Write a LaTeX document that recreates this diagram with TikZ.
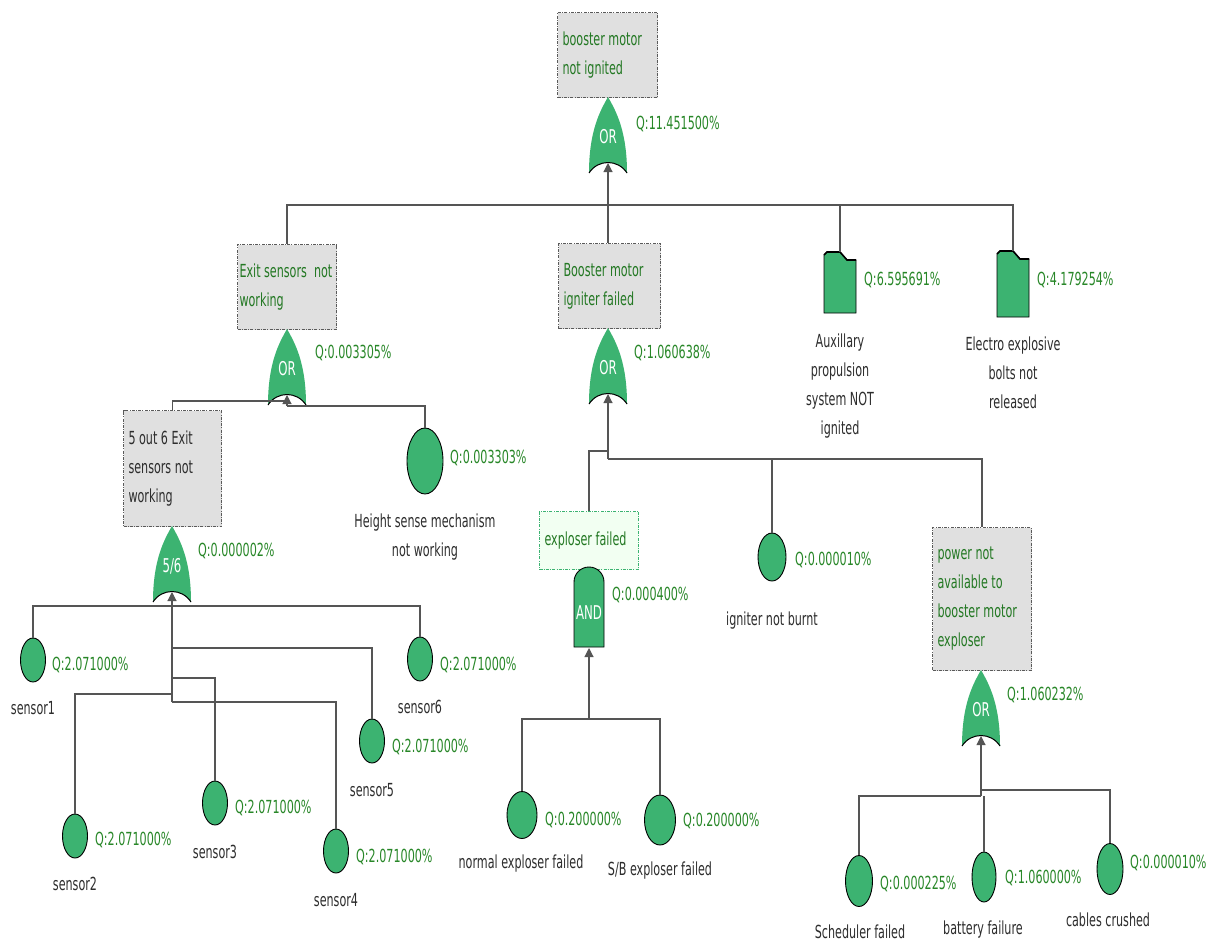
\documentclass[tikz,border=0pt]{standalone}
\usepackage{fontspec}
\setmainfont[FakeStretch=0.62]{DejaVu Sans}
\usetikzlibrary{shapes.geometric,arrows.meta}
\definecolor{gfill}{RGB}{60,179,113}
\definecolor{qgreen}{RGB}{40,135,40}
\definecolor{bgreen}{RGB}{35,120,35}
\definecolor{txt}{RGB}{45,45,45}
\definecolor{wirec}{RGB}{85,85,85}
\definecolor{boxfill}{RGB}{224,224,224}
\definecolor{boxline}{RGB}{90,90,90}
\definecolor{lgfill}{RGB}{242,255,242}
\tikzset{
  pics/orgate/.style={code={
    \fill[gfill] (0,0) .. controls (-8,14) and (-19,34) .. (-19,76)
      .. controls (-10,62) and (10,62) .. (19,76)
      .. controls (19,34) and (8,14) .. (0,0) -- cycle;
    \draw[black, line width=1pt] (-19,76) .. controls (-10,62) and (10,62) .. (19,76);
    \node[gatelbl] (-lbl) at (0,40) {#1};
    \coordinate (-top) at (0,0);
    \coordinate (-in) at (0,66);
  }},
  pics/andgate/.style={code={
    \filldraw[fill=gfill, draw=black, line width=0.9pt] (-15,80) -- (-15,15)
      .. controls (-15,6.7) and (-8.3,0) .. (0,0)
      .. controls (8.3,0) and (15,6.7) .. (15,15) -- (15,80) -- cycle;
    \node[gatelbl] (-lbl) at (0,46) {#1};
    \coordinate (-top) at (0,0);
    \coordinate (-in) at (0,81);
  }},
  pics/folder/.style={code={
    \filldraw[fill=gfill, draw=black, line width=0.9pt] (-16,#1) -- (-16,3) -- (-13,0) -- (0,0)
      -- (7,8) -- (16,8) -- (16,#1) -- cycle;
    \draw[black, line width=1.6pt] (-16,3) -- (-13,0) -- (0,0) -- (7,8) -- (16,8);
    \coordinate (-top) at (0,0);
  }},
}
\begin{document}
\begin{tikzpicture}[x=1pt,y=-1pt,
  every node/.style={font=\fontsize{18}{29}\selectfont, inner sep=0pt},
  gatelbl/.style={text=white, font=\fontsize{19}{22}\selectfont},
  wire/.style={draw=wirec, line width=1.1pt},
  arr/.style={wire, -{Triangle[length=9pt,width=9pt]}},
  evbox/.style={draw=boxline, fill=boxfill, line width=1pt,
    dash pattern=on 3pt off 1.2pt on 1pt off 1.2pt, align=flush left, text=bgreen,
    inner xsep=5pt, inner ysep=0pt, anchor=north west},
  qlab/.style={text=qgreen, anchor=west},
  lab/.style={text=txt, align=center},
  basic/.style={ellipse, draw=black, fill=gfill, line width=0.9pt},
]
\fill[white] (0,0) rectangle (1212,943);
\useasboundingbox (0,0) rectangle (1212,943);

% ---------------- top event
\node[evbox, text width=90pt, minimum height=85pt] (topbox) at (557,12) {booster motor\\not ignited};
\pic (g1) at (608,97) {orgate=OR};
\node[qlab] (q1) at (636,124) {Q:11.451500\%};

% ---------------- level 1
\node[evbox, text width=95pt, inner xsep=2pt, minimum height=85pt] (exitbox) at (237,244) {Exit sensors\ \ not\\working};
\node[evbox, text width=92pt, minimum height=85pt] (igbox) at (558,243) {Booster motor\\igniter failed};
\pic (aux) at (840,252) {folder=61};
\node[qlab] (qaux) at (864,280) {Q:6.595691\%};
\node[lab] (laux) at (840,386) {Auxillary\\propulsion\\system NOT\\ignited};
\pic (eeb) at (1013,251) {folder=66};
\node[qlab] (qeeb) at (1037,280) {Q:4.179254\%};
\node[lab] (leeb) at (1013,373) {Electro explosive\\bolts not\\released};

\coordinate (b1) at (608,205);
\draw[wire] (exitbox.north) |- (b1);
\draw[wire] (aux-top) |- (b1);
\draw[wire] (eeb-top) |- (b1);
\draw[arr] (g1-in |- igbox.north) -- (g1-in);

% ---------------- exit sensors branch
\pic (g2) at (287,329) {orgate=OR};
\node[qlab] (q2) at (315,353) {Q:0.003305\%};
\node[evbox, text width=88pt, minimum height=116pt, text=txt] (fivebox) at (123,410) {5 out 6 Exit\\sensors not\\working};
\node[basic, minimum width=36pt, minimum height=66pt] (hs) at (425,461) {};
\node[qlab] (qhs) at (450,458) {Q:0.003303\%};
\node[lab] (lhs) at (425,537) {Height sense mechanism\\not working};
\coordinate (b2a) at (287,401);
\coordinate (b2b) at (287,406);
\draw[wire] (fivebox.north) |- (b2a);
\draw[wire] (hs.north) |- (b2b);
\draw[arr] (b2b) -- (g2-in);

% ---------------- 5/6 vote
\pic (g3) at (172,526) {orgate=5/6};
\node[qlab] (q3) at (198,551) {Q:0.000002\%};
\node[basic, minimum width=25pt, minimum height=44pt] (s1) at (33,660) {};
\node[basic, minimum width=25pt, minimum height=44pt] (s2) at (75,836) {};
\node[basic, minimum width=25pt, minimum height=44pt] (s3) at (215,803) {};
\node[basic, minimum width=25pt, minimum height=44pt] (s4) at (336,851) {};
\node[basic, minimum width=25pt, minimum height=44pt] (s5) at (372,741) {};
\node[basic, minimum width=25pt, minimum height=44pt] (s6) at (420,659) {};
\node[qlab] (qs1) at (52,665) {Q:2.071000\%};
\node[qlab] (qs2) at (95,840) {Q:2.071000\%};
\node[qlab] (qs3) at (235,808) {Q:2.071000\%};
\node[qlab] (qs4) at (356,857) {Q:2.071000\%};
\node[qlab] (qs5) at (392,747) {Q:2.071000\%};
\node[qlab] (qs6) at (440,665) {Q:2.071000\%};
\node[lab] (ls1) at (33,708) {sensor1};
\node[lab] (ls2) at (75,884) {sensor2};
\node[lab] (ls3) at (215,852) {sensor3};
\node[lab] (ls4) at (336,900) {sensor4};
\node[lab] (ls5) at (372,790) {sensor5};
\node[lab] (ls6) at (420,707) {sensor6};
\coordinate (b3a) at (172,606);
\coordinate (b3b) at (172,648);
\coordinate (b3c) at (172,678);
\coordinate (b3d) at (172,694);
\coordinate (b3e) at (172,702);
\draw[wire] (s1.north) |- (b3a) -| (s6.north);
\draw[wire] (b3b) -| (s5.north);
\draw[wire] (b3c) -| (s3.north);
\draw[wire] (b3d) -| (s2.north);
\draw[wire] (b3e) -| (s4.north);
\draw[arr] (b3e) -- (g3-in);

% ---------------- igniter branch
\pic (g4) at (608,328) {orgate=OR};
\node[qlab] (q4) at (634,353) {Q:1.060638\%};
\node[evbox, text width=89pt, minimum height=58pt, fill=lgfill, draw=gfill] (expbox) at (539,511) {exploser failed};
\node[basic, minimum width=28pt, minimum height=48pt] (ign) at (772,557) {};
\node[qlab] (qign) at (795,560) {Q:0.000010\%};
\node[lab] (lign) at (772,621) {igniter not burnt};
\node[evbox, text width=89pt, minimum height=143pt] (pwrbox) at (932,527) {power not\\available to\\booster motor\\exploser};
\coordinate (b4a) at (608,451);
\coordinate (b4b) at (608,459);
\draw[wire] (expbox.north) |- (b4a);
\draw[wire] (ign.north) |- (b4b);
\draw[wire] (b4b) -| (pwrbox.north);
\draw[arr] (b4b) -- (g4-in);

% ---------------- AND
\pic (g5) at (589,567) {andgate=AND};
\node[qlab] (q5) at (612,595) {Q:0.000400\%};
\node[basic, minimum width=30pt, minimum height=47pt] (nef) at (522,815) {};
\node[basic, minimum width=31pt, minimum height=50pt] (sbf) at (660,820) {};
\node[qlab] (qnef) at (545,820) {Q:0.200000\%};
\node[qlab] (qsbf) at (683,821) {Q:0.200000\%};
\node[lab] (lnef) at (521,864) {normal exploser failed};
\node[lab] (lsbf) at (660,871) {S/B exploser failed};
\coordinate (b5) at (589,719);
\draw[wire] (nef.north) |- (b5) -| (sbf.north);
\draw[arr] (b5) -- (g5-in);

% ---------------- power OR
\pic (g6) at (981,670) {orgate=OR};
\node[qlab] (q6) at (1007,695) {Q:1.060232\%};
\node[basic, minimum width=27pt, minimum height=51pt] (sch) at (859,881) {};
\node[basic, minimum width=24pt, minimum height=50pt] (bat) at (984,877) {};
\node[basic, minimum width=26pt, minimum height=51pt] (cab) at (1110,869) {};
\node[qlab] (qsch) at (880,884) {Q:0.000225\%};
\node[qlab] (qbat) at (1005,878) {Q:1.060000\%};
\node[qlab] (qcab) at (1130,863) {Q:0.000010\%};
\node[lab] (lsch) at (860,932) {Scheduler failed};
\node[lab] (lbat) at (983,930) {battery failure};
\node[lab] (lcab) at (1108,920) {cables crushed};
\coordinate (b6a) at (981,796);
\coordinate (b6b) at (981,790);
\draw[wire] (sch.north) |- (b6a);
\draw[wire] (b6b) -| (cab.north);
\draw[wire] (bat.north) -- (bat.north |- b6a);
\draw[arr] (b6a) -- (g6-in);
\end{tikzpicture}
\end{document}
